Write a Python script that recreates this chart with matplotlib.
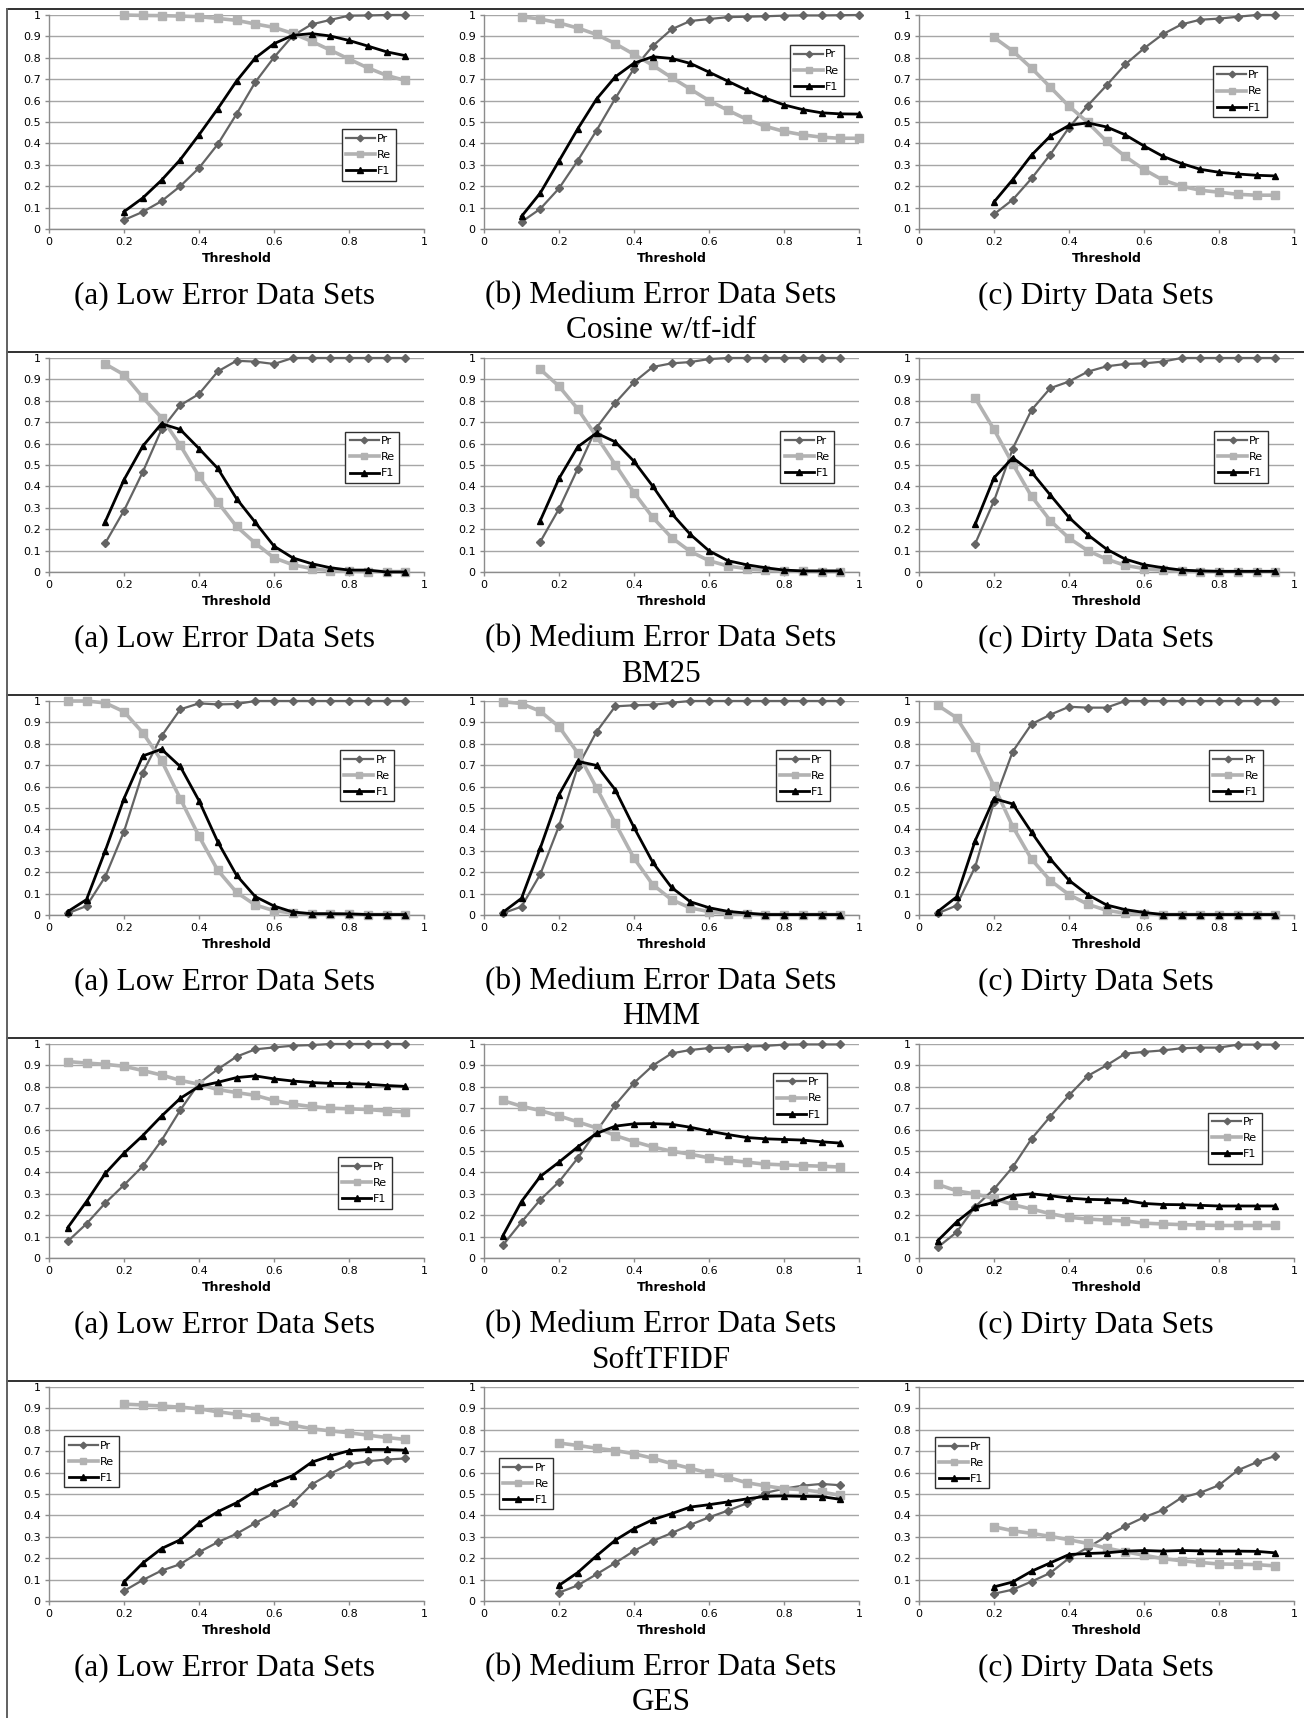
## Precision / recall / F1 versus threshold for five matching measures,
## each on low-error, medium-error and dirty data sets.

import numpy as np
import matplotlib.pyplot as plt
from matplotlib.lines import Line2D

## thresholds
t_20_95 = [0.2, 0.25, 0.3, 0.35, 0.4, 0.45, 0.5, 0.55, 0.6, 0.65, 0.7, 0.75, 0.8, 0.85, 0.9, 0.95]
t_10_100 = [0.1, 0.15, 0.2, 0.25, 0.3, 0.35, 0.4, 0.45, 0.5, 0.55, 0.6, 0.65, 0.7, 0.75, 0.8, 0.85, 0.9, 0.95, 1.0]
t_15_95 = [0.15, 0.2, 0.25, 0.3, 0.35, 0.4, 0.45, 0.5, 0.55, 0.6, 0.65, 0.7, 0.75, 0.8, 0.85, 0.9, 0.95]
t_05_95 = [0.05, 0.1, 0.15, 0.2, 0.25, 0.3, 0.35, 0.4, 0.45, 0.5, 0.55, 0.6, 0.65, 0.7, 0.75, 0.8, 0.85, 0.9, 0.95]

## Cosine w/tf-idf
cos_low_pr = [0.042, 0.08, 0.13, 0.20, 0.285, 0.396, 0.537, 0.686, 0.802, 0.903, 0.956, 0.977, 0.997, 0.998, 1.0, 1.0]
cos_low_re = [1.0, 0.998, 0.997, 0.995, 0.992, 0.984, 0.975, 0.958, 0.942, 0.914, 0.877, 0.836, 0.794, 0.753, 0.718, 0.694]
cos_low_f1 = [0.081, 0.145, 0.228, 0.324, 0.44, 0.562, 0.691, 0.799, 0.866, 0.905, 0.913, 0.902, 0.881, 0.855, 0.828, 0.81]
cos_med_pr = [0.033, 0.094, 0.19, 0.32, 0.46, 0.61, 0.75, 0.855, 0.933, 0.972, 0.981, 0.99, 0.992, 0.994, 0.997, 0.998, 0.998, 0.999, 1.0]
cos_med_re = [0.992, 0.981, 0.963, 0.939, 0.909, 0.866, 0.816, 0.765, 0.708, 0.654, 0.6, 0.555, 0.513, 0.48, 0.456, 0.44, 0.429, 0.424, 0.424]
cos_med_f1 = [0.059, 0.168, 0.318, 0.468, 0.607, 0.711, 0.775, 0.805, 0.797, 0.774, 0.733, 0.691, 0.649, 0.612, 0.58, 0.558, 0.543, 0.538, 0.537]
cos_dirty_pr = [0.069, 0.137, 0.236, 0.348, 0.474, 0.577, 0.671, 0.769, 0.844, 0.91, 0.956, 0.978, 0.983, 0.992, 1.0, 1.0]
cos_dirty_re = [0.895, 0.832, 0.752, 0.663, 0.574, 0.498, 0.41, 0.339, 0.278, 0.229, 0.2, 0.181, 0.172, 0.162, 0.158, 0.158]
cos_dirty_f1 = [0.126, 0.231, 0.345, 0.434, 0.484, 0.496, 0.477, 0.44, 0.388, 0.34, 0.306, 0.279, 0.265, 0.257, 0.251, 0.248]

## BM25
bm_low_pr = [0.135, 0.287, 0.467, 0.666, 0.779, 0.832, 0.937, 0.987, 0.983, 0.972, 1.0, 1.0, 1.0, 1.0, 1.0, 1.0, 1.0]
bm_low_re = [0.972, 0.922, 0.817, 0.721, 0.592, 0.447, 0.326, 0.213, 0.135, 0.066, 0.034, 0.016, 0.006, 0.003, 0.002, 0.002, 0.002]
bm_low_f1 = [0.235, 0.431, 0.588, 0.693, 0.666, 0.577, 0.484, 0.343, 0.232, 0.121, 0.066, 0.039, 0.02, 0.009, 0.009, 0.0, 0.0]
bm_med_pr = [0.141, 0.295, 0.483, 0.674, 0.79, 0.887, 0.958, 0.975, 0.981, 0.995, 1.0, 1.0, 1.0, 1.0, 1.0, 1.0, 1.0]
bm_med_re = [0.947, 0.868, 0.762, 0.633, 0.502, 0.371, 0.255, 0.161, 0.096, 0.053, 0.028, 0.016, 0.008, 0.005, 0.003, 0.002, 0.002]
bm_med_f1 = [0.24, 0.437, 0.585, 0.649, 0.608, 0.517, 0.401, 0.274, 0.176, 0.099, 0.053, 0.034, 0.02, 0.009, 0.005, 0.005, 0.005]
bm_dirty_pr = [0.133, 0.332, 0.577, 0.757, 0.859, 0.89, 0.936, 0.961, 0.972, 0.975, 0.983, 1.0, 1.0, 1.0, 1.0, 1.0, 1.0]
bm_dirty_re = [0.812, 0.666, 0.505, 0.354, 0.24, 0.158, 0.1, 0.06, 0.031, 0.016, 0.008, 0.003, 0.002, 0.002, 0.002, 0.002, 0.002]
bm_dirty_f1 = [0.224, 0.44, 0.534, 0.467, 0.36, 0.255, 0.174, 0.107, 0.06, 0.034, 0.02, 0.009, 0.005, 0.003, 0.003, 0.003, 0.003]

## HMM
hmm_low_pr = [0.008, 0.042, 0.179, 0.39, 0.665, 0.836, 0.961, 0.989, 0.984, 0.986, 1.0, 1.0, 1.0, 1.0, 1.0, 1.0, 1.0, 1.0, 1.0]
hmm_low_re = [1.0, 1.0, 0.991, 0.95, 0.852, 0.722, 0.544, 0.368, 0.209, 0.106, 0.047, 0.02, 0.009, 0.005, 0.005, 0.003, 0.002, 0.002, 0.002]
hmm_low_f1 = [0.016, 0.072, 0.3, 0.544, 0.743, 0.775, 0.694, 0.534, 0.342, 0.186, 0.086, 0.042, 0.014, 0.006, 0.006, 0.005, 0.002, 0.002, 0.002]
hmm_med_pr = [0.008, 0.039, 0.19, 0.416, 0.693, 0.856, 0.975, 0.98, 0.982, 0.992, 1.0, 1.0, 1.0, 1.0, 1.0, 1.0, 1.0, 1.0, 1.0]
hmm_med_re = [0.997, 0.988, 0.952, 0.88, 0.757, 0.594, 0.429, 0.265, 0.142, 0.072, 0.033, 0.016, 0.006, 0.003, 0.002, 0.002, 0.002, 0.002, 0.002]
hmm_med_f1 = [0.012, 0.078, 0.312, 0.562, 0.718, 0.699, 0.585, 0.409, 0.246, 0.129, 0.062, 0.034, 0.017, 0.009, 0.002, 0.002, 0.002, 0.002, 0.002]
hmm_dirty_pr = [0.008, 0.044, 0.226, 0.527, 0.764, 0.892, 0.936, 0.973, 0.969, 0.969, 1.0, 1.0, 1.0, 1.0, 1.0, 1.0, 1.0, 1.0, 1.0]
hmm_dirty_re = [0.98, 0.922, 0.786, 0.602, 0.413, 0.261, 0.161, 0.095, 0.05, 0.022, 0.008, 0.005, 0.002, 0.002, 0.002, 0.002, 0.002, 0.002, 0.002]
hmm_dirty_f1 = [0.016, 0.084, 0.348, 0.544, 0.519, 0.387, 0.262, 0.162, 0.095, 0.047, 0.025, 0.012, 0.002, 0.002, 0.002, 0.002, 0.002, 0.002, 0.002]

## SoftTFIDF
soft_low_pr = [0.078, 0.16, 0.257, 0.341, 0.429, 0.549, 0.691, 0.817, 0.882, 0.941, 0.975, 0.984, 0.992, 0.995, 1.0, 1.0, 1.0, 1.0, 1.0]
soft_low_re = [0.918, 0.911, 0.905, 0.896, 0.876, 0.855, 0.83, 0.812, 0.787, 0.773, 0.76, 0.736, 0.719, 0.708, 0.7, 0.697, 0.694, 0.687, 0.683]
soft_low_f1 = [0.142, 0.264, 0.395, 0.49, 0.572, 0.663, 0.746, 0.802, 0.821, 0.843, 0.851, 0.837, 0.827, 0.82, 0.816, 0.815, 0.812, 0.806, 0.802]
soft_med_pr = [0.059, 0.168, 0.272, 0.356, 0.467, 0.593, 0.715, 0.818, 0.899, 0.956, 0.972, 0.981, 0.983, 0.988, 0.991, 0.997, 0.998, 0.998, 0.998]
soft_med_re = [0.736, 0.709, 0.689, 0.664, 0.636, 0.608, 0.572, 0.544, 0.519, 0.499, 0.485, 0.468, 0.457, 0.448, 0.439, 0.435, 0.432, 0.429, 0.425]
soft_med_f1 = [0.103, 0.264, 0.381, 0.448, 0.519, 0.582, 0.616, 0.627, 0.628, 0.625, 0.611, 0.593, 0.577, 0.563, 0.557, 0.554, 0.551, 0.543, 0.537]
soft_dirty_pr = [0.05, 0.12, 0.24, 0.322, 0.425, 0.557, 0.661, 0.76, 0.851, 0.9, 0.955, 0.963, 0.97, 0.98, 0.983, 0.983, 0.997, 0.997, 0.997]
soft_dirty_re = [0.344, 0.314, 0.299, 0.278, 0.249, 0.229, 0.207, 0.19, 0.182, 0.177, 0.173, 0.163, 0.159, 0.156, 0.154, 0.152, 0.152, 0.152, 0.152]
soft_dirty_f1 = [0.081, 0.168, 0.238, 0.26, 0.292, 0.3, 0.291, 0.28, 0.274, 0.272, 0.269, 0.255, 0.25, 0.249, 0.246, 0.243, 0.243, 0.243, 0.243]

## GES
ges_low_pr = [0.047, 0.098, 0.142, 0.172, 0.228, 0.275, 0.314, 0.364, 0.411, 0.456, 0.544, 0.595, 0.638, 0.653, 0.661, 0.666]
ges_low_re = [0.92, 0.916, 0.911, 0.906, 0.898, 0.884, 0.873, 0.862, 0.841, 0.822, 0.805, 0.795, 0.786, 0.775, 0.764, 0.755]
ges_low_f1 = [0.089, 0.177, 0.245, 0.286, 0.363, 0.417, 0.459, 0.513, 0.552, 0.586, 0.648, 0.678, 0.702, 0.708, 0.708, 0.705]
ges_med_pr = [0.039, 0.073, 0.125, 0.178, 0.234, 0.281, 0.317, 0.356, 0.391, 0.422, 0.456, 0.505, 0.525, 0.539, 0.547, 0.541]
ges_med_re = [0.738, 0.727, 0.714, 0.703, 0.688, 0.667, 0.642, 0.62, 0.598, 0.578, 0.553, 0.538, 0.525, 0.52, 0.509, 0.494]
ges_med_f1 = [0.073, 0.133, 0.211, 0.284, 0.338, 0.38, 0.408, 0.439, 0.45, 0.463, 0.477, 0.489, 0.491, 0.489, 0.488, 0.475]
ges_dirty_pr = [0.034, 0.053, 0.091, 0.131, 0.2, 0.25, 0.302, 0.35, 0.391, 0.425, 0.483, 0.506, 0.541, 0.611, 0.648, 0.678]
ges_dirty_re = [0.347, 0.328, 0.316, 0.302, 0.286, 0.269, 0.247, 0.23, 0.214, 0.198, 0.188, 0.18, 0.173, 0.172, 0.17, 0.164]
ges_dirty_f1 = [0.066, 0.089, 0.139, 0.178, 0.217, 0.222, 0.225, 0.233, 0.236, 0.233, 0.236, 0.234, 0.233, 0.233, 0.232, 0.225]

measures = ['Cosine w/tf-idf', 'BM25', 'HMM', 'SoftTFIDF', 'GES']
captions = ['(a) Low Error Data Sets', '(b) Medium Error Data Sets', '(c) Dirty Data Sets']

rows = [
  [(t_20_95, cos_low_pr, cos_low_re, cos_low_f1),
   (t_10_100, cos_med_pr, cos_med_re, cos_med_f1),
   (t_20_95, cos_dirty_pr, cos_dirty_re, cos_dirty_f1)],
  [(t_15_95, bm_low_pr, bm_low_re, bm_low_f1),
   (t_15_95, bm_med_pr, bm_med_re, bm_med_f1),
   (t_15_95, bm_dirty_pr, bm_dirty_re, bm_dirty_f1)],
  [(t_05_95, hmm_low_pr, hmm_low_re, hmm_low_f1),
   (t_05_95, hmm_med_pr, hmm_med_re, hmm_med_f1),
   (t_05_95, hmm_dirty_pr, hmm_dirty_re, hmm_dirty_f1)],
  [(t_05_95, soft_low_pr, soft_low_re, soft_low_f1),
   (t_05_95, soft_med_pr, soft_med_re, soft_med_f1),
   (t_05_95, soft_dirty_pr, soft_dirty_re, soft_dirty_f1)],
  [(t_20_95, ges_low_pr, ges_low_re, ges_low_f1),
   (t_20_95, ges_med_pr, ges_med_re, ges_med_f1),
   (t_20_95, ges_dirty_pr, ges_dirty_re, ges_dirty_f1)],
]

## legend anchor (upper left corner, axes fraction) for each panel
legend_pos = [
  [(0.78, 0.465), (0.815, 0.86), (0.783, 0.762)],
  [(0.79, 0.655), (0.79, 0.657), (0.786, 0.657)],
  [(0.776, 0.77), (0.778, 0.77), (0.773, 0.77)],
  [(0.77, 0.47), (0.77, 0.865), (0.77, 0.679)],
  [(0.041, 0.77), (0.04, 0.667), (0.042, 0.765)],
]

W, H = 1304, 1718
fig = plt.figure(figsize=(W/100.0, H/100.0), dpi=100)
fig.patch.set_facecolor('white')

col_left = [49, 484, 919]
ax_w, ax_h = 375, 214
row_pitch = 343
row_top0 = 15
cap_x = [225, 661, 1096]

tick_font = ['Liberation Sans Narrow', 'DejaVu Sans']
serif = ['Liberation Serif', 'DejaVu Serif']

for r in range(0, 5):
  top = row_top0 + r*row_pitch
  for c in range(0, 3):
    x, pr, re, f1 = rows[r][c]
    ax = fig.add_axes([col_left[c]/W, 1 - (top + ax_h)/H, ax_w/W, ax_h/H])
    ax.plot(x, pr, color='#646464', lw=1.6, marker='D', ms=4.2, label='Pr', clip_on=False, zorder=3)
    ax.plot(x, re, color='#b2b2b2', lw=2.6, marker='s', ms=5.5, label='Re', clip_on=False, zorder=3)
    ax.plot(x, f1, color='#000000', lw=2.0, marker='^', ms=5.0, label='F1', clip_on=False, zorder=4)
    ax.set_xlim(0, 1)
    ax.set_ylim(0, 1)
    ax.set_yticks(np.linspace(0, 1, 11))
    ax.set_yticklabels(['0', '0.1', '0.2', '0.3', '0.4', '0.5', '0.6', '0.7', '0.8', '0.9', '1'])
    ax.set_xticks(np.linspace(0, 1, 6))
    ax.set_xticklabels(['0', '0.2', '0.4', '0.6', '0.8', '1'])
    for lab in ax.get_xticklabels() + ax.get_yticklabels():
      lab.set_family(tick_font)
    ax.tick_params(labelsize=8, length=3, width=1, color='#8c8c8c', pad=3)
    ax.yaxis.grid(True, color='#a6a6a6', lw=1.0)
    ax.set_axisbelow(True)
    for s in ['top', 'right']:
      ax.spines[s].set_visible(False)
    for s in ['left', 'bottom']:
      ax.spines[s].set_color('#8c8c8c')
      ax.spines[s].set_linewidth(1.0)
    ax.set_xlabel('Threshold', fontsize=9, fontweight='bold', family=tick_font, labelpad=3.5)
    leg = ax.legend(loc='upper left', bbox_to_anchor=legend_pos[r][c],
                    prop={'family': tick_font, 'size': 8},
                    frameon=True, fancybox=False, framealpha=1, edgecolor='#303030',
                    handlelength=2.6, borderpad=0.4, labelspacing=0.55, handletextpad=0.2,
                    borderaxespad=0, markerscale=0.8)
    leg.get_frame().set_linewidth(1.0)
    fig.text(cap_x[c]/W, 1 - (top + 281)/H, captions[c], ha='center', va='center',
             fontsize=22.5, family=serif)
  fig.text(cap_x[1]/W, 1 - (top + 316)/H, measures[r], ha='center', va='center',
           fontsize=22.5, family=serif)

## frame lines around the rows
for r in range(0, 5):
  y = 1 - (9 + r*row_pitch)/H
  fig.add_artist(Line2D([6.5/W, 1], [y, y], color='#303030', lw=1.4))
fig.add_artist(Line2D([6.5/W, 6.5/W], [0, 1 - 9/H], color='#606060', lw=1.4))

plt.savefig('out.png', dpi=100)
